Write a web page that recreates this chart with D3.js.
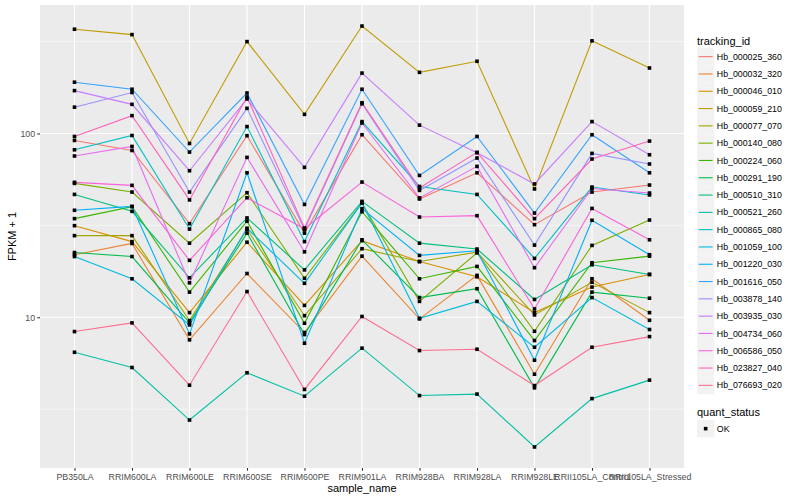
<!DOCTYPE html>
<html>
<head>
<meta charset="utf-8">
<script src="https://cdn.jsdelivr.net/npm/d3@7"></script>
<style>
  body { margin: 0; background: white; }
  text { font-family: "Liberation Sans", Arial, Helvetica, sans-serif; }
</style>
</head>
<body>
<div id="chart"></div>
<script>
// samples on x axis
const samples = ["PB350LA", "RRIM600LA", "RRIM600LE", "RRIM600SE", "RRIM600PE", "RRIM901LA",
    "RRIM928BA", "RRIM928LA", "RRIM928LE", "RRII105LA_Control", "RRII105LA_Stressed"];

const trackingIds = ["Hb_000025_360", "Hb_000032_320", "Hb_000046_010", "Hb_000059_210", "Hb_000077_070",
    "Hb_000140_080", "Hb_000224_060", "Hb_000291_190", "Hb_000510_310", "Hb_000521_260",
    "Hb_000865_080", "Hb_001059_100", "Hb_001220_030", "Hb_001616_050", "Hb_003878_140",
    "Hb_003935_030", "Hb_004734_060", "Hb_006586_050", "Hb_023827_040", "Hb_076693_020"];

// FPKM + 1, one array per gene, same order as samples
const hb_000025_360 = [91.6, 80.8, 32.3, 97.2, 28.7, 98.4, 44.0, 61.1, 31.9, 48.0, 52.4];
const hb_000032_320 = [21.9, 25.2, 7.54, 17.3, 8.26, 21.5, 9.80, 16.9, 4.90, 16.2, 9.63];
const hb_000046_010 = [31.5, 25.8, 10.6, 25.6, 11.6, 26.1, 20.1, 16.6, 10.6, 14.6, 17.1];
const hb_000059_210 = [369, 345, 88.2, 316, 127, 384, 215, 247, 49.9, 319, 227];
const hb_000077_070 = [27.8, 27.8, 9.60, 30.0, 10.2, 23.6, 20.1, 22.6, 10.3, 15.5, 10.6];
const hb_000140_080 = [53.5, 48.0, 25.3, 47.6, 16.3, 41.9, 12.2, 22.4, 8.39, 24.6, 33.8];
const hb_000224_060 = [34.4, 40.0, 13.7, 33.3, 9.28, 37.5, 16.2, 18.9, 7.47, 19.8, 21.5];
const hb_000291_190 = [22.5, 21.4, 9.32, 28.7, 8.05, 26.4, 12.8, 14.3, 4.13, 13.7, 12.7];
const hb_000510_310 = [46.6, 37.7, 16.4, 34.7, 18.1, 42.7, 25.3, 23.5, 12.5, 19.3, 17.1];
const hb_000521_260 = [6.45, 5.33, 2.76, 4.99, 3.72, 6.79, 3.75, 3.82, 1.97, 3.61, 4.55];
const hb_000865_080 = [81.5, 97.5, 30.2, 109, 25.8, 116, 51.5, 46.6, 20.9, 51.1, 46.3];
const hb_001059_100 = [21.4, 16.2, 9.09, 30.5, 15.3, 41.9, 9.87, 12.2, 6.87, 12.8, 8.58];
const hb_001220_030 = [38.2, 40.1, 8.12, 61.1, 7.22, 39.0, 21.7, 23.0, 5.84, 33.7, 21.9];
const hb_001616_050 = [190, 174, 79.2, 166, 41.1, 174, 59.1, 96.3, 36.9, 98.4, 61.1];
const hb_003878_140 = [139, 167, 48.0, 137, 30.0, 145, 49.0, 73.5, 24.7, 77.9, 68.2];
const hb_003935_030 = [171, 144, 62.7, 154, 65.4, 213, 111, 78.6, 53.1, 116, 76.6];
const hb_004734_060 = [75.4, 85.0, 15.4, 74.1, 22.7, 114, 44.6, 66.2, 18.6, 50.2, 47.4];
const hb_006586_050 = [54.2, 52.2, 20.4, 44.7, 30.3, 54.4, 35.1, 35.7, 11.1, 39.1, 26.4];
const hb_023827_040 = [96.3, 125, 43.5, 158, 30.6, 147, 50.5, 78.9, 34.4, 72.6, 90.9];
const hb_076693_020 = [8.36, 9.32, 4.27, 13.8, 4.05, 10.1, 6.59, 6.70, 4.25, 6.87, 7.85];

const seriesValues = [hb_000025_360, hb_000032_320, hb_000046_010, hb_000059_210, hb_000077_070,
    hb_000140_080, hb_000224_060, hb_000291_190, hb_000510_310, hb_000521_260,
    hb_000865_080, hb_001059_100, hb_001220_030, hb_001616_050, hb_003878_140,
    hb_003935_030, hb_004734_060, hb_006586_050, hb_023827_040, hb_076693_020];

const quantStatus = ["OK"];
const yTicks = [10, 100];

// ggplot default hue palette for 20 levels
const colorScale = d3.scaleOrdinal().domain(trackingIds).range([
    "#F8766D", "#EA8331", "#D89000", "#C09B00", "#A3A500", "#7CAE00", "#39B600", "#00BB4E", "#00BF7D", "#00C1A3",
    "#00BFC4", "#00BAE0", "#00B0F6", "#35A2FF", "#9590FF", "#C77CFF", "#E76BF3", "#FA62DB", "#FF62BC", "#FF6C91"]);

// long format
const series = trackingIds.map((id, i) => ({
    id: id,
    values: samples.map((s, j) => ({ sample: s, value: seriesValues[i][j] }))
}));
const allPoints = series.flatMap(d => d.values);

// dimensions
const width = 800, height = 500;
const panel = { left: 40, right: 684, top: 5, bottom: 468 };

const svg = d3.select("#chart").append("svg").attr("width", width).attr("height", height);

const x = d3.scalePoint().domain(samples).range([panel.left, panel.right]).padding(0.6);

// log scale, expanded 5% in log space like ggplot
const ext = d3.extent(allPoints, d => Math.log10(d.value));
const pad = (ext[1] - ext[0]) * 0.05;
const y = d3.scaleLog()
    .domain([Math.pow(10, ext[0] - pad), Math.pow(10, ext[1] + pad)])
    .range([panel.bottom, panel.top]);

const minorTicks = [0.5, 1.5, 2.5].map(e => Math.pow(10, e)).filter(v => v > y.domain()[0] && v < y.domain()[1]);

// panel background + grid
svg.append("rect")
    .attr("x", panel.left).attr("y", panel.top)
    .attr("width", panel.right - panel.left).attr("height", panel.bottom - panel.top)
    .attr("fill", "#EBEBEB");

const gridG = svg.append("g").attr("class", "grid");
gridG.selectAll("line.minor")
    .data(minorTicks)
    .join("line")
    .attr("class", "minor")
    .attr("x1", panel.left).attr("x2", panel.right)
    .attr("y1", d => y(d)).attr("y2", d => y(d))
    .attr("stroke", "white").attr("stroke-width", 0.55);
gridG.selectAll("line.majorY")
    .data(yTicks)
    .join("line")
    .attr("class", "majorY")
    .attr("x1", panel.left).attr("x2", panel.right)
    .attr("y1", d => y(d)).attr("y2", d => y(d))
    .attr("stroke", "white").attr("stroke-width", 1.1);
gridG.selectAll("line.majorX")
    .data(samples)
    .join("line")
    .attr("class", "majorX")
    .attr("x1", d => x(d)).attr("x2", d => x(d))
    .attr("y1", panel.top).attr("y2", panel.bottom)
    .attr("stroke", "white").attr("stroke-width", 1.1);

// lines
const line = d3.line().x(d => x(d.sample)).y(d => y(d.value));
svg.append("g").selectAll("path")
    .data(series)
    .join("path")
    .attr("d", d => line(d.values))
    .attr("fill", "none")
    .attr("stroke", d => colorScale(d.id))
    .attr("stroke-width", 1.1);

// points
const ptSize = 3.6;
svg.append("g").selectAll("rect")
    .data(allPoints)
    .join("rect")
    .attr("x", d => x(d.sample) - ptSize / 2)
    .attr("y", d => y(d.value) - ptSize / 2)
    .attr("width", ptSize).attr("height", ptSize)
    .attr("fill", "black");

// axes
const xAxis = svg.append("g").attr("transform", `translate(0,${panel.bottom})`)
    .call(d3.axisBottom(x).tickSize(2.75).tickPadding(3.5));
const yAxis = svg.append("g").attr("transform", `translate(${panel.left},0)`)
    .call(d3.axisLeft(y).tickValues(yTicks).tickFormat(d3.format("d")).tickSize(2.75).tickPadding(2.2));

[xAxis, yAxis].forEach(g => {
    g.select(".domain").remove();
    g.selectAll(".tick line").attr("stroke", "#333333").attr("stroke-width", 1.1);
    g.selectAll(".tick text").attr("fill", "#4D4D4D").attr("font-size", 8.8)
        .attr("font-family", "Liberation Sans, Arial, sans-serif");
});

svg.append("text")
    .attr("x", (panel.left + panel.right) / 2).attr("y", 492)
    .attr("text-anchor", "middle").attr("font-size", 11).attr("fill", "black")
    .text("sample_name");

svg.append("text")
    .attr("transform", `translate(16,${(panel.top + panel.bottom) / 2}) rotate(-90)`)
    .attr("text-anchor", "middle").attr("font-size", 11).attr("fill", "black")
    .text("FPKM + 1");

// legend: tracking_id
const legendX = 697, keySize = 17.3;
const legendG = svg.append("g").attr("transform", `translate(${legendX},0)`);

legendG.append("text").attr("x", 0).attr("y", 44.5)
    .attr("font-size", 11).attr("fill", "black").text("tracking_id");

const legend = legendG.selectAll("g.legendG")
    .data(trackingIds)
    .join("g")
    .attr("class", "legendG")
    .attr("transform", (d, i) => `translate(0,${48 + i * keySize})`);

legend.append("rect")
    .attr("width", keySize).attr("height", keySize)
    .attr("fill", "#F2F2F2");
legend.append("line")
    .attr("x1", 1.7).attr("x2", keySize - 1.7)
    .attr("y1", keySize / 2).attr("y2", keySize / 2)
    .attr("stroke", d => colorScale(d)).attr("stroke-width", 1.1);
legend.append("text").text(d => d)
    .attr("x", keySize + 2.5).attr("y", keySize / 2 + 3.1)
    .attr("font-size", 8.8).attr("fill", "black");

// legend: quant_status
const statusTop = 48 + trackingIds.length * keySize + 18;
legendG.append("text").attr("x", 0).attr("y", statusTop + 4)
    .attr("font-size", 11).attr("fill", "black").text("quant_status");

const statusLegend = legendG.selectAll("g.statusG")
    .data(quantStatus)
    .join("g")
    .attr("class", "statusG")
    .attr("transform", (d, i) => `translate(0,${statusTop + 8 + i * keySize})`);

statusLegend.append("rect")
    .attr("width", keySize).attr("height", keySize)
    .attr("fill", "#F2F2F2");
statusLegend.append("rect")
    .attr("x", keySize / 2 - ptSize / 2).attr("y", keySize / 2 - ptSize / 2)
    .attr("width", ptSize).attr("height", ptSize)
    .attr("fill", "black");
statusLegend.append("text").text(d => d)
    .attr("x", keySize + 2.5).attr("y", keySize / 2 + 3.1)
    .attr("font-size", 8.8).attr("fill", "black");
</script>
</body>
</html>
